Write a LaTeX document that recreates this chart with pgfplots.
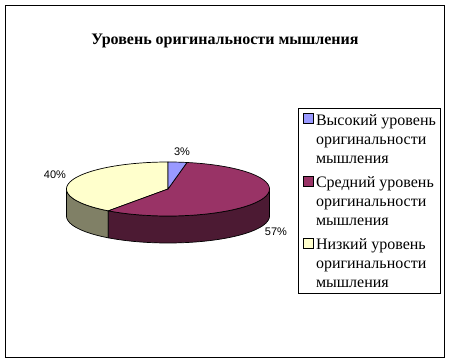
\documentclass[border=0pt]{standalone}
\usepackage{fontspec}
\setmainfont{Liberation Serif}
\newfontfamily\timesf{Liberation Serif}
\newfontfamily\arialf{Liberation Sans}
\usepackage{pgfplots}
\pgfplotsset{compat=1.18}
\usepgfplotslibrary{fillbetween}
\definecolor{cBlue}{RGB}{153,153,255}
\definecolor{cMaroon}{RGB}{153,51,102}
\definecolor{cYellow}{RGB}{255,255,204}
\definecolor{sMaroon}{RGB}{76,26,51}
\definecolor{sYellow}{RGB}{128,128,102}
% shares: 3%, 57%, 40% -> angles clockwise from 90 deg
% blue: 90 .. 79.2 ; maroon: 79.2 .. -126 ; yellow: -126 .. -270 (=234 .. 90)
\begin{document}
\begin{tikzpicture}
\begin{axis}[
  width=450pt, height=362pt, scale only axis,
  xmin=0, xmax=450, ymin=0, ymax=362,
  axis lines=none, clip=false,
  legend style={at={(axis cs:298,254)}, anchor=north west, draw=black, line width=0.8pt,
    font=\timesf\fontsize{16}{19}\selectfont, inner xsep=5pt, inner ysep=5pt,
    row sep=11pt, column sep=2pt,
    nodes={inner sep=0pt}},
  legend cell align=left,
]
\path (rel axis cs:0,0) rectangle (rel axis cs:1,1);
\draw[line width=0.9pt] (axis cs:5,5) rectangle (axis cs:444,357);
% side walls
\addplot[name path=ya, draw=none, domain=180:234, samples=40, forget plot] ({168+101.5*cos(x)},{173+27*sin(x)});
\addplot[name path=yb, draw=none, domain=180:234, samples=40, forget plot] ({168+101.5*cos(x)},{146+27*sin(x)});
\addplot[fill=sYellow, draw=black, line width=0.7pt, forget plot] fill between[of=ya and yb];
\addplot[name path=ma, draw=none, domain=234:360, samples=60, forget plot] ({168+101.5*cos(x)},{173+27*sin(x)});
\addplot[name path=mb, draw=none, domain=234:360, samples=60, forget plot] ({168+101.5*cos(x)},{146+27*sin(x)});
\addplot[fill=sMaroon, draw=black, line width=0.7pt, forget plot] fill between[of=ma and mb];
% top sectors
\addplot[fill=cYellow, draw=black, line width=0.7pt, domain=90:234, samples=60, forget plot]
  ({168+101.5*cos(x)},{173+27*sin(x)}) -- (axis cs:168,173) -- cycle;
\addplot[fill=cMaroon, draw=black, line width=0.7pt, domain=-126:79.2, samples=80, forget plot]
  ({168+101.5*cos(x)},{173+27*sin(x)}) -- (axis cs:168,173) -- cycle;
\addplot[fill=cBlue, draw=black, line width=0.7pt, domain=79.2:90, samples=10, forget plot]
  ({168+101.5*cos(x)},{173+27*sin(x)}) -- (axis cs:168,173) -- cycle;
% labels
\node[font=\arialf\fontsize{11}{13}\selectfont] at (axis cs:182,210) {3\%};
\node[font=\arialf\fontsize{11}{13}\selectfont] at (axis cs:55,187) {40\%};
\node[font=\arialf\fontsize{11}{13}\selectfont] at (axis cs:276,130) {57\%};
\node[font=\timesf\bfseries\fontsize{16}{19}\selectfont] at (axis cs:225,321) {Уровень оригинальности мышления};
% legend
\addlegendimage{legend image code/.code={\draw[fill=cBlue, draw=black, line width=0.6pt] (0pt,-10pt) rectangle (10pt,0pt);}}
\addlegendentry{Высокий уровень\\оригинальности\\мышления}
\addlegendimage{legend image code/.code={\draw[fill=cMaroon, draw=black, line width=0.6pt] (0pt,-10pt) rectangle (10pt,0pt);}}
\addlegendentry{Средний уровень\\оригинальности\\мышления}
\addlegendimage{legend image code/.code={\draw[fill=cYellow, draw=black, line width=0.6pt] (0pt,-10pt) rectangle (10pt,0pt);}}
\addlegendentry{Низкий уровень\\оригинальности\\мышления}
\pgfplotsset{legend style={cells={anchor=north west, align=left}}}
\end{axis}
\end{tikzpicture}
\end{document}
